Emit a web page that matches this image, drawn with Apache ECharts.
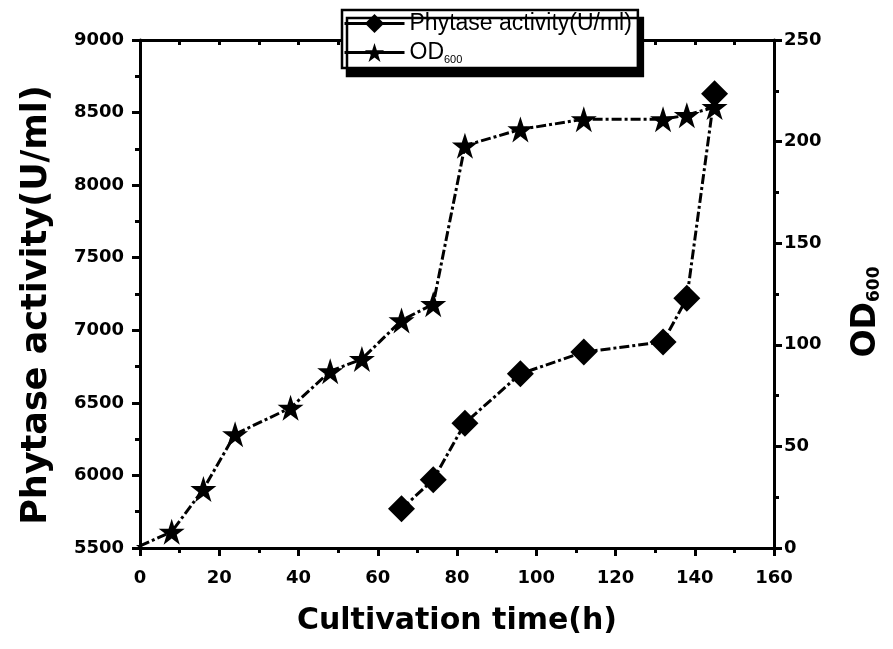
<!DOCTYPE html>
<html>
<head>
<meta charset="utf-8">
<script src="https://cdn.jsdelivr.net/npm/echarts@6/dist/echarts.min.js"></script>
<style>
  html, body { margin: 0; padding: 0; background: #fff; }
  #chart { width: 893px; height: 649px; }
</style>
</head>
<body>
<div id="chart"></div>
<script>
// Cultivation time (h) for each sample
const timeOD = [0, 8, 16, 24, 38, 48, 56, 66, 74, 82, 96, 112, 132, 138, 145];
const od600 = [1, 8, 29, 56, 69, 87, 93, 112, 120, 198, 206, 211, 211, 213, 217];

const timePhytase = [66, 74, 82, 96, 112, 132, 138, 145];
const phytase = [5770, 5970, 6360, 6700, 6850, 6920, 7220, 8630];

const xTicks = [0, 20, 40, 60, 80, 100, 120, 140, 160];
const leftTicks = [5500, 6000, 6500, 7000, 7500, 8000, 8500, 9000];
const rightTicks = [0, 50, 100, 150, 200, 250];

const phyLabel = 'Phytase activity(U/ml)';
const odLabel = 'OD600';

const STAR = 'path://M50,0 L61.8,35.5 L99,35.5 L69,57.5 L80.5,93 L50,71 L19.5,93 L31,57.5 L1,35.5 L38.2,35.5 Z';

const pair = (xs, ys) => xs.map((x, i) => [x, ys[i]]);

const tickFont = {
  color: '#000', fontFamily: 'DejaVu Sans', fontWeight: 'bold', fontSize: 18
};
const axisLine = { show: true, onZero: false, lineStyle: { color: '#000', width: 3 } };
const dashed = { color: '#000', width: 3, type: [10, 3, 3, 3] };
const majorTick = { show: true, inside: false, length: 8, lineStyle: { width: 3, color: '#000' } };
const minorTick = { show: true, splitNumber: 2, length: 5, lineStyle: { width: 3, color: '#000' } };

const chart = echarts.init(document.getElementById('chart'), null, { renderer: 'canvas' });

chart.setOption({
  backgroundColor: '#fff',
  animation: false,
  grid: { left: 140, right: 119, top: 40, bottom: 101, containLabel: false },
  legend: {
    orient: 'vertical',
    left: 342,
    top: 10,
    padding: [2, 6, 3, 1],
    itemGap: 6,
    itemWidth: 60,
    itemHeight: 24,
    backgroundColor: '#fff',
    borderColor: '#000',
    borderWidth: 2.5,
    shadowColor: '#000',
    shadowBlur: 0,
    shadowOffsetX: 5,
    shadowOffsetY: 8,
    lineStyle: { type: 'solid', width: 3 },
    data: [phyLabel, odLabel],
    formatter: name => name === odLabel ? '{m|OD}{s|600}' : name,
    textStyle: {
      color: '#000', fontFamily: 'Liberation Sans', fontSize: 23,
      rich: {
        m: { fontFamily: 'Liberation Sans', fontSize: 23, color: '#000' },
        s: { fontFamily: 'Liberation Sans', fontSize: 11, color: '#000', padding: [14, 0, 0, 0] }
      }
    }
  },
  xAxis: [{
    type: 'value',
    min: 0, max: 160, interval: 20,
    position: 'bottom',
    name: 'Cultivation time(h)',
    nameLocation: 'middle',
    nameGap: 58,
    nameTextStyle: { color: '#000', fontFamily: 'DejaVu Sans', fontWeight: 'bold', fontSize: 30 },
    axisLine: axisLine,
    axisTick: majorTick,
    minorTick: minorTick,
    axisLabel: Object.assign({ margin: 21, formatter: v => xTicks.includes(v) ? String(v) : '' }, tickFont),
    splitLine: { show: false }
  }, {
    type: 'value',
    min: 0, max: 160, interval: 10,
    position: 'top',
    axisLine: axisLine,
    axisTick: { show: true, inside: true, length: 5, lineStyle: { width: 3, color: '#000' } },
    axisLabel: { show: false },
    splitLine: { show: false }
  }],
  yAxis: [{
    type: 'value',
    min: 5500, max: 9000, interval: 500,
    position: 'left',
    name: phyLabel,
    nameLocation: 'middle',
    nameGap: 86,
    nameTextStyle: {
      color: '#000', fontFamily: 'DejaVu Sans', fontWeight: 'bold', fontSize: 35,
      padding: [0, 22, 0, 0]
    },
    axisLine: axisLine,
    axisTick: majorTick,
    minorTick: minorTick,
    axisLabel: Object.assign({ margin: 16, formatter: v => leftTicks.includes(v) ? String(v) : '' }, tickFont),
    splitLine: { show: false }
  }, {
    type: 'value',
    min: 0, max: 250, interval: 50,
    position: 'right',
    name: '{m|OD}{s|600}',
    nameLocation: 'middle',
    nameRotate: 90,
    nameGap: 76,
    nameTextStyle: {
      color: '#000', fontFamily: 'DejaVu Sans', fontWeight: 'bold', fontSize: 33,
      padding: [0, 36, 0, 0],
      rich: {
        m: { fontFamily: 'DejaVu Sans', fontWeight: 'bold', fontSize: 33, color: '#000' },
        s: { fontFamily: 'DejaVu Sans', fontWeight: 'bold', fontSize: 17, color: '#000', padding: [16, 0, 0, 0] }
      }
    },
    axisLine: axisLine,
    axisTick: majorTick,
    minorTick: minorTick,
    axisLabel: Object.assign({ margin: 10, formatter: v => rightTicks.includes(v) ? String(v) : '' }, tickFont),
    splitLine: { show: false }
  }],
  series: [{
    name: phyLabel,
    type: 'line',
    xAxisIndex: 0,
    yAxisIndex: 0,
    data: pair(timePhytase, phytase),
    symbol: 'diamond',
    symbolSize: [27, 27],
    itemStyle: { color: '#000' },
    lineStyle: dashed,
    z: 3
  }, {
    name: odLabel,
    type: 'line',
    xAxisIndex: 0,
    yAxisIndex: 1,
    data: pair(timeOD, od600),
    symbol: STAR,
    symbolSize: (val, p) => p.dataIndex === 0 ? 8 : 26,
    itemStyle: { color: '#000' },
    lineStyle: dashed,
    z: 2
  }]
});
</script>
</body>
</html>
